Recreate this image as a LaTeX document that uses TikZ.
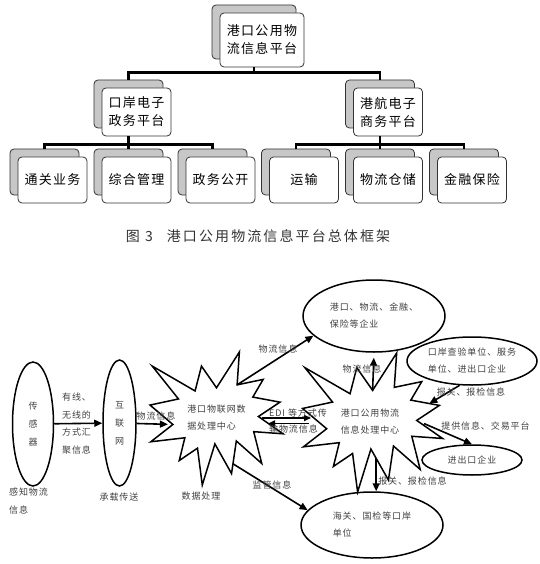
\documentclass[tikz,border=0pt]{standalone}
\usepackage{fontspec}
\setmainfont{Noto Sans CJK SC}
\newfontfamily\boxfont[LetterSpace=10]{Noto Sans CJK SC}
\newfontfamily\smallcn[LetterSpace=10]{Noto Sans CJK SC}
\newfontfamily\capfont[LetterSpace=15]{Noto Sans CJK SC}
\usepackage{tikz}
\usetikzlibrary{arrows.meta, shapes.geometric, positioning, calc}
% outline of the explosion shape, unit square, first point left out
\newcommand{\sealpts}{0.672/0.000, 0.655/0.247, 0.851/0.206, 0.773/0.339,
  0.977/0.377, 0.815/0.485, 1.000/0.615, 0.780/0.599, 0.840/0.838,
  0.649/0.669, 0.613/0.914, 0.488/0.691, 0.393/1.000, 0.357/0.723,
  0.220/0.816, 0.262/0.645, 0.006/0.675, 0.172/0.545, 0.000/0.399,
  0.214/0.353, 0.017/0.106, 0.339/0.293, 0.387/0.106}

\begin{document}
\begin{tikzpicture}[x=1pt, y=-1pt,
      fr/.style={draw=black!80, fill=white, rounded corners=4pt, line width=0.8pt,
                 align=center, font={\boxfont\fontsize{13}{18}\selectfont}},
      bk/.style={fr, fill=black!22},
      big/.style={minimum width=84pt, minimum height=54pt},
      mid/.style={minimum width=69pt, minimum height=48pt},
      sm/.style={minimum width=69pt, minimum height=46pt},
      tl/.style={line width=2.5pt},
      ell/.style={draw, ellipse, line width=1.5pt, inner sep=0pt, align=left,
                  font={\smallcn\fontsize{9}{17}\selectfont}, text=black!75},
      lbl/.style={inner sep=0pt, align=left, font={\smallcn\fontsize{9}{17}\selectfont}, text=black!75},
      seal/.style={line width=1.5pt, fill=white, line join=miter},
      arr/.style={line width=1.6pt, -{Triangle[length=8pt,width=7pt]}}]
  \useasboundingbox (0,0) rectangle (539,564);

  % Row 0
  \node[bk, big] (rootB) at (254,32) {};
  \node[fr, big] (root) at (262,40) {港口公用物\\流信息平台};
  % Row 1
  \node[bk, mid] (kouanB) at (128.5,104) {};
  \node[fr, mid] (kouan) at (136.5,112) {口岸电子\\政务平台};
  \node[bk, mid] (ganghangB) at (380,104) {};
  \node[fr, mid] (ganghang) at (388,112) {港航电子\\商务平台};
  % Row 2
  \node[bk, sm] (tongguanB) at (44.5,172) {};
  \node[fr, sm] (tongguan) at (52.5,180) {通关业务};
  \node[bk, sm] (zongheB) at (128.5,172) {};
  \node[fr, sm] (zonghe) at (136.5,180) {综合管理};
  \node[bk, sm] (zhengwuB) at (212.5,172) {};
  \node[fr, sm] (zhengwu) at (220.5,180) {政务公开};
  \node[bk, sm] (yunshuB) at (296,172) {};
  \node[fr, sm] (yunshu) at (304,180) {运输};
  \node[bk, sm] (cangchuB) at (380,172) {};
  \node[fr, sm] (cangchu) at (388,180) {物流仓储};
  \node[bk, sm] (jinrongB) at (464,172) {};
  \node[fr, sm] (jinrong) at (472,180) {金融保险};
  % tree lines
  \draw[tl] (rootB |- root.south) -- ++(0,5) -| (kouanB.north);
  \draw[tl] (rootB |- root.south) -- ++(0,5) -| (ganghangB.north);
  \draw[tl] (kouanB |- kouan.south) -- ++(0,8) -| (tongguanB.north);
  \draw[tl] (kouanB |- kouan.south) -- (zongheB.north);
  \draw[tl] (kouanB |- kouan.south) -- ++(0,8) -| (zhengwuB.north);
  \draw[tl] (ganghangB |- ganghang.south) -- ++(0,8) -| (yunshuB.north);
  \draw[tl] (ganghangB |- ganghang.south) -- (cangchuB.north);
  \draw[tl] (ganghangB |- ganghang.south) -- ++(0,8) -| (jinrongB.north);

  % caption
  \node[text=black!80, font={\capfont\fontsize{14}{16}\selectfont}] (cap) at (258,236)
       {图 3\quad 港口公用物流信息平台总体框架};

  % explosion shapes
  \begin{scope}[shift={(150,352)}, xscale=133, yscale=133]
    \draw[seal] (0.5,0.269) coordinate (s1-1)
      \foreach \px/\py [count=\i from 2] in \sealpts {-- (\px,\py) coordinate (s1-\i)} -- cycle;
  \end{scope}
  \begin{scope}[shift={(302.6,353)}, xscale=140, yscale=139]
    \draw[seal] (0.5,0.269) coordinate (s2-1)
      \foreach \px/\py [count=\i from 2] in \sealpts {-- (\px,\py) coordinate (s2-\i)} -- cycle;
  \end{scope}
  \node[lbl] (iotc) at (216.5,417.5) {港口物联网数\\据处理中心};
  \node[lbl] (pubc) at (370,421.5) {港口公用物流\\信息处理中心};

  % ellipses
  \node[ell, align=center, minimum width=41pt, minimum height=124pt, font={\smallcn\fontsize{9}{18}\selectfont}]
       (sensor) at (33,424) {传\\感\\器};
  \node[ell, align=center, minimum width=33pt, minimum height=126pt, font={\smallcn\fontsize{9}{18}\selectfont}]
       (net) at (119.5,423) {互\\联\\网};
  \node[ell, minimum width=142pt, minimum height=72pt] (eport) at (374,316) {港口、物流、金融、\\保险等企业};
  \node[ell, minimum width=130pt, minimum height=48pt] (echeck) at (472,361) {口岸查验单位、服务\\单位、进出口企业};
  \node[ell, minimum width=100pt, minimum height=30pt] (eimp) at (472,460) {进出口企业};
  \node[ell, minimum width=142pt, minimum height=66pt] (ecustoms) at (372,525) {海关、国检等口岸\\单位};

  % plain labels
  \node[lbl, anchor=west, font={\smallcn\fontsize{9}{17.7}\selectfont}] (wired) at (62,423.5) {有线、\\无线的\\方式汇\\聚信息};
  \node[lbl, anchor=west, font={\smallcn\fontsize{9}{18}\selectfont}] (perceive) at (9,501) {感知物流\\信息};
  \node[lbl] (carry) at (119,497) {承载传送};
  \node[lbl] (dataproc) at (201,496) {数据处理};

  % connectors
  \draw[arr] (sensor) -- (net);
  \draw[arr, shorten >=5pt] (net) -- (s1-19);
  \node[lbl] (la) at (156,416) {物流信息};
  \draw[arr] (s1-3) -- (eport.198);
  \node[lbl] (lb) at (278,349) {物流信息};
  \coordinate (s1se) at ($(s1-11)!0.7!(s1-12)$);
  \draw[arr] (s1se) -- (ecustoms.167);
  \node[lbl] (lc) at (272,485) {监管信息};
  % EDI pair
  \coordinate (edi1) at (262,418);
  \coordinate (edi2) at (311,418);
  \coordinate (edi3) at (309,423.5);
  \coordinate (edi4) at (268,423.5);
  \draw[arr, -{Triangle[length=7pt,width=6pt]}] (edi1) -- (edi2);
  \draw[arr, -{Triangle[length=7pt,width=6pt]}] (edi3) -- (edi4);
  \node[lbl, anchor=west, font={\smallcn\fontsize{9}{16}\selectfont}] (ld) at (269,421) {EDI 等方式传\\输物流信息};
  % around the public centre
  \draw[arr, shorten >=5pt] (s2-1) -- (eport.south);
  \node[lbl] (le) at (362,369) {物流信息};
  \coordinate (s2ne) at ($(s2-5)!0.65!(s2-6)$);
  \draw[arr] (echeck.243) -- (s2ne);
  \node[lbl] (lf) at (471,392) {报关、报检信息};
  \draw[arr, shorten <=8pt] (s2-7) -- (eimp.north);
  \node[lbl] (lg) at (485.5,426) {提供信息、交易平台};
  \coordinate (s2s) at ($(s2-13)!0.3!(s2-12)$);
  \draw[arr] (s2s) -- (s2s |- ecustoms.north);
  \node[lbl] (lh) at (412.5,481) {报关、报检信息};
\end{tikzpicture}
\end{document}
